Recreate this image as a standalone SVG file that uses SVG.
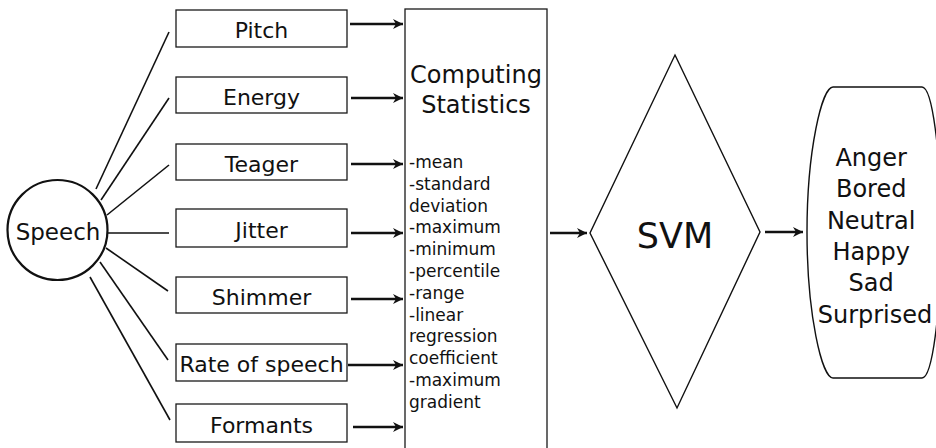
<svg xmlns="http://www.w3.org/2000/svg" width="936" height="448" viewBox="0 0 936 448">
  <style>
    .bg { fill: #ffffff; }
    .box { fill: #ffffff; stroke: #1a1a1a; stroke-width: 1.3; }
    .shape { fill: #ffffff; stroke: #111111; stroke-width: 1.4; }
    .circle { fill: #ffffff; stroke: #111111; stroke-width: 2.2; }
    .spoke { stroke: #111111; stroke-width: 1.6; fill: none; }
    .arrow { stroke: #111111; stroke-width: 2.4; fill: none; marker-end: url(#head); }
    .label { font-family: "DejaVu Sans", "Liberation Sans", sans-serif; fill: #111111; text-anchor: middle; }
    .item { font-family: "DejaVu Sans", "Liberation Sans", sans-serif; fill: #111111; font-size: 17px; }
  </style>
  <defs>
    <marker id="head" markerUnits="userSpaceOnUse" markerWidth="12" markerHeight="12" refX="11" refY="6" orient="auto">
      <path d="M1,1 L11,6 L1,11 L4,6 z" fill="#111111"/>
    </marker>
  </defs>

  <rect class="bg" x="0" y="0" width="936" height="448"/>

  <!-- spokes from the speech node and arrows between stages -->
  <g id="connectors">
    <line class="spoke" x1="96" y1="189" x2="169" y2="32"/>
    <line class="spoke" x1="101" y1="200" x2="169" y2="98"/>
    <line class="spoke" x1="107" y1="215" x2="169" y2="165"/>
    <line class="spoke" x1="108" y1="233" x2="169" y2="233"/>
    <line class="spoke" x1="106" y1="248" x2="168" y2="291"/>
    <line class="spoke" x1="100" y1="262" x2="168" y2="360"/>
    <line class="spoke" x1="90" y1="277" x2="170" y2="420"/>

    <line class="arrow" x1="350" y1="24" x2="403" y2="24"/>
    <line class="arrow" x1="351" y1="98" x2="403" y2="98"/>
    <line class="arrow" x1="351" y1="164" x2="403" y2="164"/>
    <line class="arrow" x1="351" y1="233" x2="403" y2="233"/>
    <line class="arrow" x1="351" y1="299" x2="403" y2="299"/>
    <line class="arrow" x1="348" y1="365" x2="403" y2="365"/>
    <line class="arrow" x1="353" y1="427" x2="403" y2="427"/>

    <line class="arrow" x1="550" y1="233" x2="587" y2="233"/>
    <line class="arrow" x1="765" y1="232" x2="803" y2="232"/>
  </g>

  <g id="speech">
    <circle class="circle" cx="57.5" cy="230" r="50"/>
    <text class="label" x="58" y="240" font-size="23">Speech</text>
  </g>

  <g id="pitch">
    <rect class="box" x="176" y="10" width="171" height="37"/>
    <text class="label" x="261.5" y="38" font-size="22">Pitch</text>
  </g>
  <g id="energy">
    <rect class="box" x="176" y="77" width="171" height="36"/>
    <text class="label" x="261.5" y="105" font-size="22">Energy</text>
  </g>
  <g id="teager">
    <rect class="box" x="176" y="144" width="171" height="36"/>
    <text class="label" x="261.5" y="172" font-size="22">Teager</text>
  </g>
  <g id="jitter">
    <rect class="box" x="176" y="209" width="171" height="38"/>
    <text class="label" x="261.5" y="238" font-size="22">Jitter</text>
  </g>
  <g id="shimmer">
    <rect class="box" x="176" y="277" width="171" height="36"/>
    <text class="label" x="261.5" y="305" font-size="22">Shimmer</text>
  </g>
  <g id="rate-of-speech">
    <rect class="box" x="176" y="344" width="171" height="37"/>
    <text class="label" x="261.5" y="372" font-size="22">Rate of speech</text>
  </g>
  <g id="formants">
    <rect class="box" x="176" y="404" width="171" height="38"/>
    <text class="label" x="261.5" y="433" font-size="22">Formants</text>
  </g>

  <g id="statistics">
    <rect class="box" x="405" y="9" width="142" height="450"/>
    <text class="label" x="476" y="83" font-size="24">Computing</text>
    <text class="label" x="476" y="113" font-size="24">Statistics</text>
    <text class="item" x="409">
      <tspan x="409" y="168">-mean</tspan>
      <tspan x="409" y="189.8">-standard</tspan>
      <tspan x="409" y="211.6">deviation</tspan>
      <tspan x="409" y="233.4">-maximum</tspan>
      <tspan x="409" y="255.2">-minimum</tspan>
      <tspan x="409" y="277">-percentile</tspan>
      <tspan x="409" y="298.8">-range</tspan>
      <tspan x="409" y="320.6">-linear</tspan>
      <tspan x="409" y="342.4">regression</tspan>
      <tspan x="409" y="364.2">coefficient</tspan>
      <tspan x="409" y="386">-maximum</tspan>
      <tspan x="409" y="407.8">gradient</tspan>
    </text>
  </g>

  <g id="svm">
    <polygon class="shape" points="675,55 760,232 677,408 590,233"/>
    <text class="label" x="675" y="248" font-size="35">SVM</text>
  </g>

  <g id="emotions">
    <path class="shape" d="M833,87 H922 C932,87 941,150 941,232 C941,315 932,378 922,378 H833 C822,378 807,315 807,232 C807,150 822,87 833,87 Z"/>
    <text class="label" font-size="24">
      <tspan x="875" y="166">Anger</tspan>
      <tspan x="875" y="197.3">Bored</tspan>
      <tspan x="875" y="228.6">Neutral</tspan>
      <tspan x="875" y="259.9">Happy</tspan>
      <tspan x="875" y="291.2">Sad</tspan>
      <tspan x="875" y="322.5">Surprised</tspan>
    </text>
  </g>
</svg>
